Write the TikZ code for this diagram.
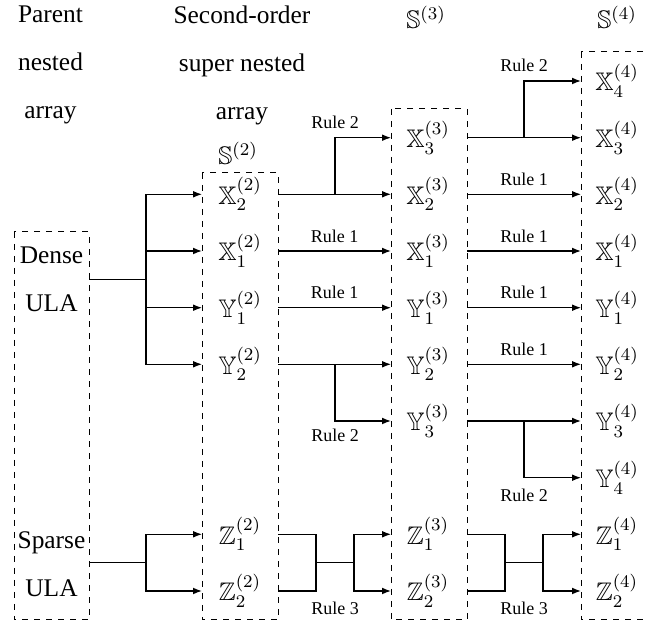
\RequirePackage{fix-cm}
\documentclass[tikz,border=0pt]{standalone}
\usepackage{amsmath}
\usepackage{amssymb}
\usepackage[no-math]{fontspec}
\setmainfont{Liberation Serif}
\usetikzlibrary{arrows.meta}

\begin{document}
\begin{tikzpicture}[x=0.5pt, y=-0.5pt, line width=0.6pt,
        dashbox/.style={draw, dashed, line width=0.5pt},
        elem/.style={inner sep=0pt, font=\fontsize{12.7}{15}\selectfont},
        head/.style={inner sep=0pt, align=center, font=\fontsize{12.7}{24}\selectfont},
        rulelab/.style={inner sep=0pt, font=\fontsize{9}{11}\selectfont},
        arr/.style={-{Latex[length=4.5pt,width=3.4pt]}}]
        \useasboundingbox (0,0) rectangle (648,624);

        % dashed boxes
        \coordinate (p-nw) at (14,232);   \coordinate (p-se) at (89,620);
        \coordinate (s2-nw) at (202,173); \coordinate (s2-se) at (278,620);
        \coordinate (s3-nw) at (391,109); \coordinate (s3-se) at (467,620);
        \coordinate (s4-nw) at (581,52);  \coordinate (s4-se) at (656,620);
        \draw[dashbox] (p-nw) rectangle (p-se);
        \draw[dashbox] (s2-nw) rectangle (s2-se);
        \draw[dashbox] (s3-nw) rectangle (s3-se);
        \draw[dashbox] (s4-nw) rectangle (s4-se);

        % headings
        \node[head] (hparent) at (50.5,65) {Parent\\nested\\array};
        \node[head] (hsecond) at (242,65) {Second-order\\super nested\\array};
        \node[elem] (s2lab) at (238,153) {$\mathbb{S}^{(2)}$};
        \node[elem] (s3lab) at (426,17) {$\mathbb{S}^{(3)}$};
        \node[elem] (s4lab) at (617,17) {$\mathbb{S}^{(4)}$};
        \node[head] (dense) at (51.5,279.5) {Dense\\ULA};
        \node[head] (sparse) at (51.5,564) {Sparse\\ULA};

        % S(2)
        \node[elem] (s2x2) at (240,194.3) {$\mathbb{X}^{(2)}_{2}$};
        \node[elem] (s2x1) at (240,251) {$\mathbb{X}^{(2)}_{1}$};
        \node[elem] (s2y1) at (240,307.7) {$\mathbb{Y}^{(2)}_{1}$};
        \node[elem] (s2y2) at (240,364.3) {$\mathbb{Y}^{(2)}_{2}$};
        \node[elem] (s2z1) at (240,534.3) {$\mathbb{Z}^{(2)}_{1}$};
        \node[elem] (s2z2) at (240,591) {$\mathbb{Z}^{(2)}_{2}$};

        % S(3)
        \node[elem] (s3x3) at (428,137.7) {$\mathbb{X}^{(3)}_{3}$};
        \node[elem] (s3x2) at (428,194.3) {$\mathbb{X}^{(3)}_{2}$};
        \node[elem] (s3x1) at (428,251) {$\mathbb{X}^{(3)}_{1}$};
        \node[elem] (s3y1) at (428,307.7) {$\mathbb{Y}^{(3)}_{1}$};
        \node[elem] (s3y2) at (428,364.3) {$\mathbb{Y}^{(3)}_{2}$};
        \node[elem] (s3y3) at (428,421) {$\mathbb{Y}^{(3)}_{3}$};
        \node[elem] (s3z1) at (428,534.3) {$\mathbb{Z}^{(3)}_{1}$};
        \node[elem] (s3z2) at (428,591) {$\mathbb{Z}^{(3)}_{2}$};

        % S(4)
        \node[elem] (s4x4) at (617,81) {$\mathbb{X}^{(4)}_{4}$};
        \node[elem] (s4x3) at (617,137.7) {$\mathbb{X}^{(4)}_{3}$};
        \node[elem] (s4x2) at (617,194.3) {$\mathbb{X}^{(4)}_{2}$};
        \node[elem] (s4x1) at (617,251) {$\mathbb{X}^{(4)}_{1}$};
        \node[elem] (s4y1) at (617,307.7) {$\mathbb{Y}^{(4)}_{1}$};
        \node[elem] (s4y2) at (617,364.3) {$\mathbb{Y}^{(4)}_{2}$};
        \node[elem] (s4y3) at (617,421) {$\mathbb{Y}^{(4)}_{3}$};
        \node[elem] (s4y4) at (617,477.7) {$\mathbb{Y}^{(4)}_{4}$};
        \node[elem] (s4z1) at (617,534.3) {$\mathbb{Z}^{(4)}_{1}$};
        \node[elem] (s4z2) at (617,591) {$\mathbb{Z}^{(4)}_{2}$};

        % branch columns
        \coordinate (j1) at (146,0);
        \coordinate (j2) at (335,0);
        \coordinate (j3) at (524,0);
        \coordinate (k2a) at (316,0);
        \coordinate (k2b) at (354,0);
        \coordinate (k3a) at (505,0);
        \coordinate (k3b) at (543,0);
        \coordinate (zm) at (0,562.7);

        % parent -> S(2)
        \draw (dense -| p-se) -- (j1 |- dense);
        \foreach \n in {s2x2,s2x1,s2y1,s2y2}
            \draw[arr] (j1 |- dense) |- (\n -| s2-nw);
        \draw (zm -| p-se) -- (j1 |- zm);
        \foreach \n in {s2z1,s2z2}
            \draw[arr] (j1 |- zm) |- (\n -| s2-nw);

        % S(2) -> S(3)
        \draw[arr] (s2x2 -| s2-se) -- (s3x2 -| s3-nw);
        \draw[arr] (j2 |- s3x2) |- node[rulelab, pos=0.5, above=4pt] (r2a) {Rule 2} (s3x3 -| s3-nw);
        \draw[arr] (s2x1 -| s2-se) -- node[rulelab, above=4pt] (r1a) {Rule 1} (s3x1 -| s3-nw);
        \draw[arr] (s2y1 -| s2-se) -- node[rulelab, above=4pt] (r1b) {Rule 1} (s3y1 -| s3-nw);
        \draw[arr] (s2y2 -| s2-se) -- (s3y2 -| s3-nw);
        \draw[arr] (j2 |- s3y2) |- node[rulelab, pos=0.5, below=3.8pt] (r2b) {Rule 2} (s3y3 -| s3-nw);
        \draw (s2z1 -| s2-se) -| (k2a |- s2z2) -- (s2z2 -| s2-se);
        \draw (k2a |- zm) -- (k2b |- zm);
        \foreach \n in {s3z1,s3z2}
            \draw[arr] (k2b |- zm) |- (\n -| s3-nw);
        \node[rulelab, below=5pt] (r3a) at (j2 |- s2z2) {Rule 3};

        % S(3) -> S(4)
        \draw[arr] (s3x3 -| s3-se) -- (s4x3 -| s4-nw);
        \draw[arr] (j3 |- s4x3) |- node[rulelab, pos=0.5, above=4.5pt] (r2c) {Rule 2} (s4x4 -| s4-nw);
        \foreach \a/\b in {s3x2/s4x2,s3x1/s4x1,s3y1/s4y1,s3y2/s4y2}
            \draw[arr] (\a -| s3-se) -- node[rulelab, above=4pt] (r1-\b) {Rule 1} (\b -| s4-nw);
        \draw[arr] (s3y3 -| s3-se) -- (s4y3 -| s4-nw);
        \draw[arr] (j3 |- s4y3) |- node[rulelab, pos=0.5, below=5.5pt] (r2d) {Rule 2} (s4y4 -| s4-nw);
        \draw (s3z1 -| s3-se) -| (k3a |- s3z2) -- (s3z2 -| s3-se);
        \draw (k3a |- zm) -- (k3b |- zm);
        \foreach \n in {s4z1,s4z2}
            \draw[arr] (k3b |- zm) |- (\n -| s4-nw);
        \node[rulelab, below=5pt] (r3b) at (j3 |- s3z2) {Rule 3};
    \end{tikzpicture}
\end{document}
